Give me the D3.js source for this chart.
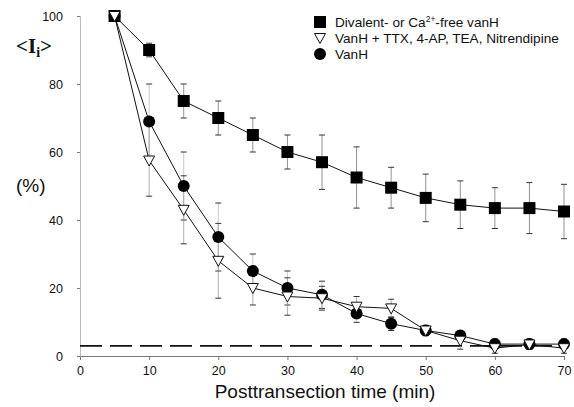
<!DOCTYPE html>
<html><head><meta charset="utf-8">
<script src="https://cdn.jsdelivr.net/npm/d3@7"></script>
<style>body{margin:0;background:#fff}svg{display:block}</style>
</head><body>
<script>
const times = [5,10,15,20,25,30,35,40,45,50,55,60,65,70];
const squareVals = [100,90,75,70,65,60,57,52.5,49.5,46.5,44.5,43.5,43.5,42.5];
const squareErr  = [0,2,5,5,5,5,8,9,6,7,7,6,7.5,8];
const circleVals = [100,69,50,35,25,20,18,12.5,9.5,7.5,6,3.5,3.5,3.5];
const circleErr  = [0,11,10,10,5,5,4,2.6,2,1.5,1.5,1.5,1.5,1.5];
const triVals    = [100,57.5,43,28,20,17.5,17,14.5,14,7.5,4.5,2.3,3.4,2.3];
const triErr     = [0,10.5,10,11,5,5.5,3.5,3,2.7,1.5,2.5,1.5,1.5,1.5];
const baselineVal = 3;
const xTicks = [0,10,20,30,40,50,60,70];
const yTicks = [0,20,40,60,80,100];
const legendLabels = ["Divalent- or Ca", "VanH + TTX, 4-AP, TEA, Nitrendipine", "VanH"];

const W=574,H=407;
const svg=d3.select("body").append("svg").attr("width",W).attr("height",H);
const x=d3.scaleLinear().domain([0,70]).range([80,564]);
const y=d3.scaleLinear().domain([0,100]).range([356,16]);
const font="Liberation Sans, Arial, sans-serif";

// axes
const gx=svg.append("g").attr("transform","translate(0,356)")
  .call(d3.axisBottom(x).tickValues(xTicks).tickSize(4).tickPadding(6));
gx.select(".domain").attr("stroke","#777");
gx.selectAll(".tick line").attr("stroke","#777");
gx.selectAll("text").attr("font-family",font).attr("font-size",12.5).attr("fill","#111");
const gy=svg.append("g").attr("transform","translate(80,0)")
  .call(d3.axisLeft(y).tickValues(yTicks).tickSize(3).tickPadding(14));
gy.select(".domain").attr("stroke","#aaa").attr("stroke-width",0.8);
gy.selectAll(".tick line").attr("stroke","#777");
gy.selectAll("text").attr("font-family",font).attr("font-size",12.5).attr("fill","#111");

// dashed baseline
svg.append("line").attr("x1",x(0)).attr("x2",x(70)).attr("y1",y(baselineVal)).attr("y2",y(baselineVal))
  .attr("stroke","#111").attr("stroke-width",1.8).attr("stroke-dasharray","22,8");

const series=[
  {vals:squareVals,err:squareErr,shape:"square",stem:"#777"},
  {vals:circleVals,err:circleErr,shape:"circle",stem:"#bbb"},
  {vals:triVals,err:triErr,shape:"tri",stem:"#999"}
];
const line=d3.line().x((d,i)=>x(times[i])).y(d=>y(d));

// error bars
series.forEach(s=>{
  const g=svg.append("g");
  s.vals.forEach((v,i)=>{
    if(!s.err[i]) return;
    const cx=x(times[i]), t=y(v+s.err[i]), b=y(v-s.err[i]);
    g.append("line").attr("x1",cx).attr("x2",cx).attr("y1",t).attr("y2",b).attr("stroke",s.stem).attr("stroke-width",0.8);
    [t,b].forEach(yy=>g.append("line").attr("x1",cx-3).attr("x2",cx+3).attr("y1",yy).attr("y2",yy).attr("stroke","#333").attr("stroke-width",1));
  });
});
// lines
series.forEach(s=>{
  svg.append("path").datum(s.vals).attr("d",line).attr("fill","none").attr("stroke","#111").attr("stroke-width",1);
});
function drawMarker(g,shape,cx,cy){
  if(shape==="square") g.append("rect").attr("x",cx-6).attr("y",cy-6).attr("width",12).attr("height",12).attr("fill","#000");
  else if(shape==="circle") g.append("circle").attr("cx",cx).attr("cy",cy).attr("r",6).attr("fill","#000");
  else g.append("path").attr("d",`M${cx-5.5},${cy-4.5}L${cx+5.5},${cy-4.5}L${cx},${cy+5.5}Z`).attr("fill","#fff").attr("stroke","#111").attr("stroke-width",1);
}
series.forEach(s=>{
  const g=svg.append("g");
  s.vals.forEach((v,i)=>drawMarker(g,s.shape,x(times[i]),y(v)));
});

// legend
const lg=svg.append("g");
const shapes=["square","tri","circle"];
legendLabels.forEach((lab,i)=>{
  const yy=22+i*16;
  drawMarker(lg,shapes[i],320,yy);
  const t=lg.append("text").attr("x",335).attr("y",yy+4.5).attr("font-family",font).attr("font-size",13.6).attr("fill","#111").text(lab);
  if(i===0){
    t.append("tspan").attr("dy",-5).attr("font-size",8.5).text("2+");
    t.append("tspan").attr("dy",5).text("-free vanH");
  }
});

// axis titles
const yt=svg.append("text").attr("x",16).attr("y",53).attr("font-family","Liberation Serif, Times New Roman, serif").attr("font-size",21).attr("font-weight","bold").attr("fill","#111");
yt.append("tspan").text("<I");
yt.append("tspan").attr("dy",4).attr("font-size",14).text("i");
yt.append("tspan").attr("dy",-4).text(">");
svg.append("text").attr("x",16).attr("y",192).attr("font-family",font).attr("font-size",19).attr("fill","#111").text("(%)");
svg.append("text").attr("x",325).attr("y",398).attr("text-anchor","middle").attr("font-family",font).attr("font-size",19).attr("fill","#111").text("Posttransection time (min)");
</script>
</body></html>
